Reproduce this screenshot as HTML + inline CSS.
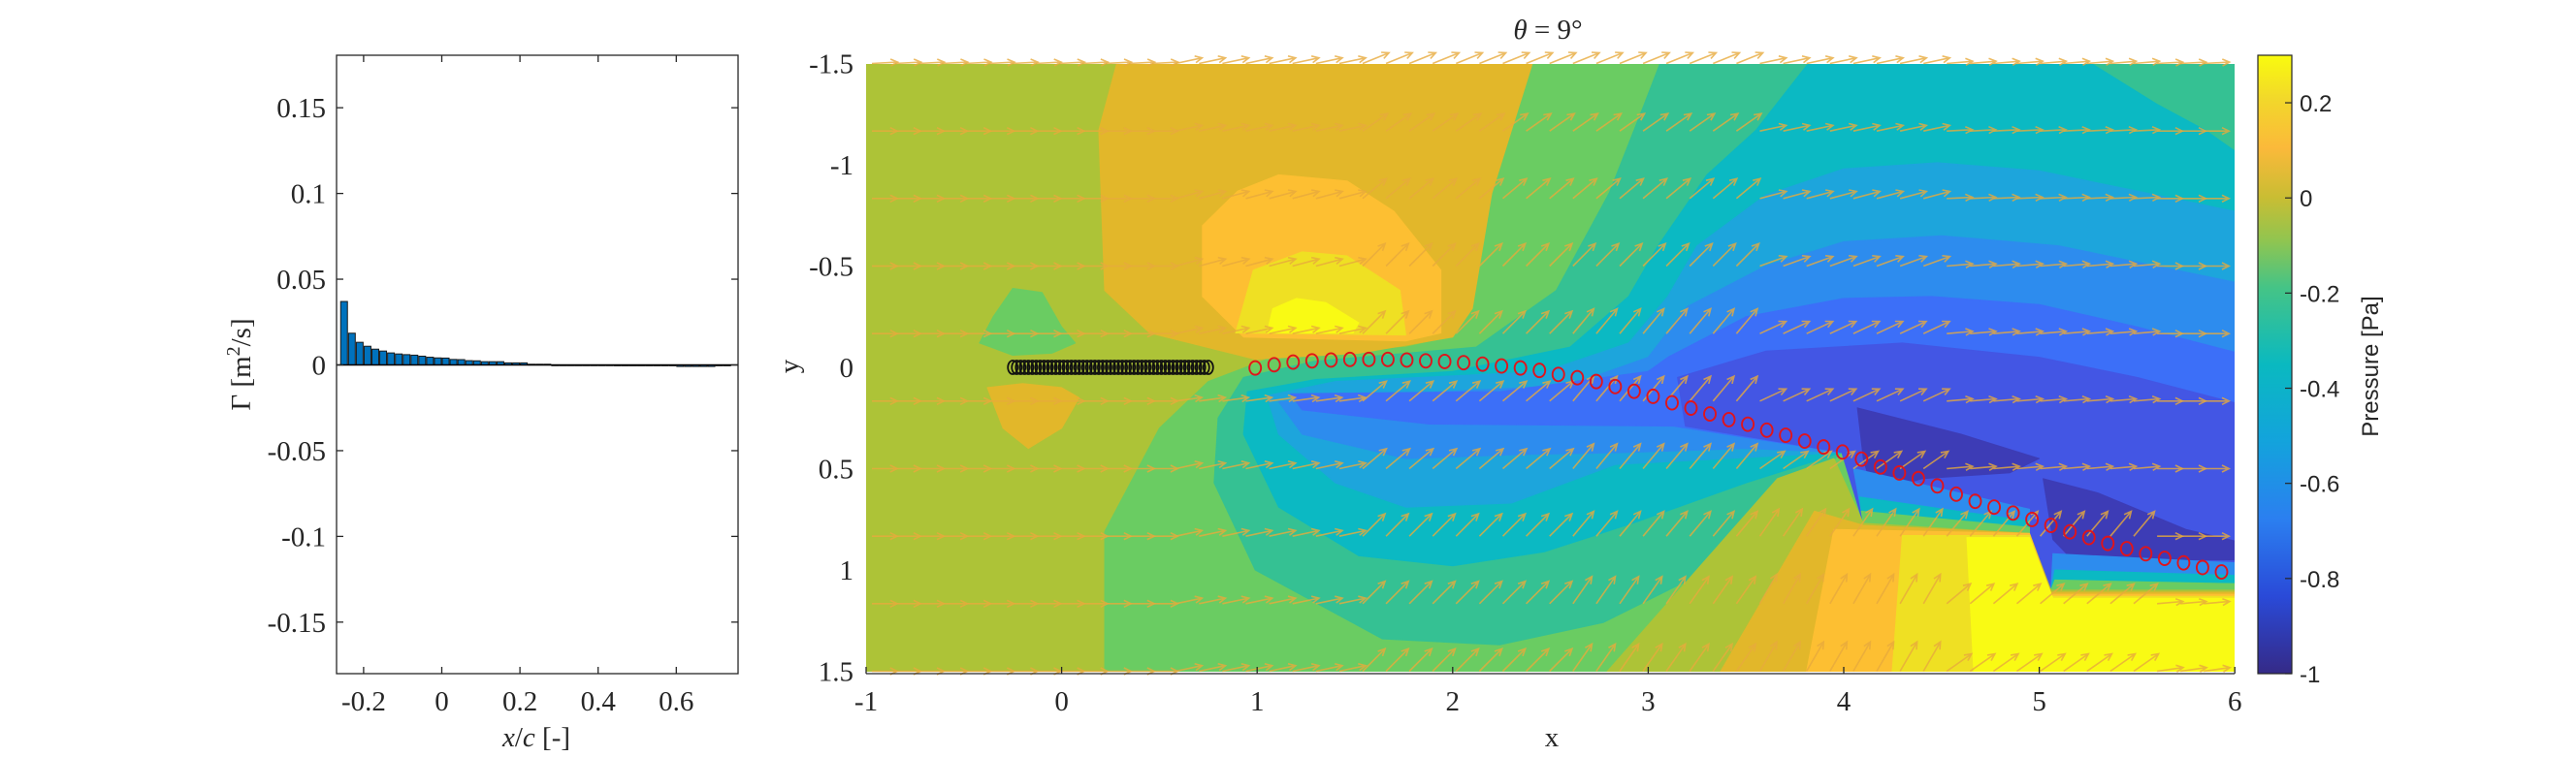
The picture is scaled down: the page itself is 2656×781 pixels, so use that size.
<!DOCTYPE html>
<html><head><meta charset="utf-8"><style>
html,body{margin:0;padding:0;background:#fff;}
svg{display:block;}
.tk{font-family:"Liberation Serif",serif;font-size:29px;fill:#262626;}
</style></head><body>
<svg id="fig" width="2656" height="781" viewBox="0 0 2656 781" xmlns="http://www.w3.org/2000/svg">
<defs>
<clipPath id="pc"><rect x="893" y="66" width="1411" height="627"/></clipPath>
<linearGradient id="parula" x1="0" y1="1" x2="0" y2="0">
<stop offset="0" stop-color="#352a87"/><stop offset="0.125" stop-color="#2a4ad8"/>
<stop offset="0.25" stop-color="#2b7ff0"/><stop offset="0.375" stop-color="#13a3dc"/>
<stop offset="0.5" stop-color="#0ab9c0"/><stop offset="0.625" stop-color="#45c486"/>
<stop offset="0.7" stop-color="#90c550"/><stop offset="0.77" stop-color="#c9bd33"/>
<stop offset="0.85" stop-color="#fbb93a"/><stop offset="0.93" stop-color="#f2d82a"/>
<stop offset="1" stop-color="#f9fb0e"/></linearGradient>
</defs>
<g id="left"></g>
<g id="right"></g>
</svg>
<script>
// ---- left bar chart data ----
const barX0 = -0.25, barStep = 0.02;
const gammaValues = [0.037,0.0185,0.0132,0.0109,0.0092,0.0081,0.0070,0.0064,0.0060,0.0057,0.0051,0.0045,0.0041,0.0040,0.0032,0.0031,0.0025,0.0024,0.0019,0.0019,0.0019,0.0012,0.0012,0.0012,0.0004,0.0004,0.0004,0,0,0,0,0,-0.0002,-0.0002,-0.0002,-0.0005,-0.0005,-0.0005,-0.0005,-0.0005,-0.0005,-0.0005,-0.0005,-0.0009,-0.0009,-0.0009,-0.0009,-0.0009,-0.0005,-0.0005];
const leftYTicks = [0.15,0.1,0.05,0,-0.05,-0.1,-0.15];
const leftYTickLabels = ["0.15","0.1","0.05","0","-0.05","-0.1","-0.15"];
const leftXTicks = [-0.2,0,0.2,0.4,0.6];
const leftXTickLabels = ["-0.2","0","0.2","0.4","0.6"];
// ---- right plot data ----
const rightXTicks = [-1,0,1,2,3,4,5,6];
const rightYTicks = [-1.5,-1,-0.5,0,0.5,1,1.5];
const rightYTickLabels = ["-1.5","-1","-0.5","0","0.5","1","1.5"];
const cbTicks = [0.2,0,-0.2,-0.4,-0.6,-0.8,-1];
const cbTickLabels = ["0.2","0","-0.2","-0.4","-0.6","-0.8","-1"];
const wakeX0 = 0.99, wakeStep = 0.0969;
const wakeY = [0.003,-0.013,-0.026,-0.032,-0.036,-0.039,-0.039,-0.039,-0.036,-0.032,-0.029,-0.023,-0.016,-0.007,0.003,0.015,0.035,0.051,0.070,0.095,0.118,0.143,0.175,0.201,0.230,0.258,0.281,0.310,0.335,0.364,0.393,0.418,0.453,0.492,0.521,0.549,0.585,0.626,0.661,0.690,0.719,0.751,0.780,0.812,0.840,0.869,0.895,0.920,0.943,0.965,0.988,1.010];
const plateX = [];
for (let i=0;i<=50;i++) plateX.push(-0.25+i*0.02);
const quiverRows = [-1.5,-1.1667,-0.8333,-0.5,-0.1667,0.1667,0.5,0.8333,1.1667,1.5];
const quiverCols = [-1,0,1,2,3,4,5,6];
const quiverAngles = [
 [3,3,12,22,22,12,5,3],
 [0,0,12,35,35,12,3,0],
 [0,0,15,40,40,15,3,0],
 [0,0,15,45,45,20,5,0],
 [0,0,12,45,50,25,5,0],
 [0,0,8,40,50,25,5,0],
 [0,0,12,40,50,35,5,0],
 [0,0,12,45,50,55,50,0],
 [0,0,12,45,55,60,40,5],
 [0,0,12,45,55,60,35,8]];

const NS='http://www.w3.org/2000/svg';
function mk(parent,tag,attrs){const e=document.createElementNS(NS,tag);for(const k in attrs)e.setAttribute(k,attrs[k]);parent.appendChild(e);return e;}
const lx=v=>455.5+v*403, ly=v=>376.5-v*1769;
const rx=v=>893+(v+1)*201.6, ry=v=>65.5+(v+1.5)*209;
const cy=v=>695-(v+1)*490.8;

// ---------- left ----------
const L=document.getElementById('left');
gammaValues.forEach((g,i)=>{
  const xc=lx(barX0+i*barStep);
  const y0=ly(0), y1=ly(g);
  const r=mk(L,'rect',{x:xc-3.5,y:Math.min(y0,y1),width:7,height:Math.max(0.8,Math.abs(y1-y0)),fill:'#0072bd',stroke:'#1a1a1a','stroke-width':1});
  
  
});
let zl=mk(L,'line',{x1:347,x2:761,y1:ly(0),y2:ly(0),stroke:'#000','stroke-width':1.5});

let lb=mk(L,'rect',{x:347,y:57,width:414,height:638,fill:'none',stroke:'#262626','stroke-width':1.3});

leftYTicks.forEach((t,i)=>{
  const y=ly(t);
  mk(L,'line',{x1:347,x2:354,y1:y,y2:y,stroke:'#262626','stroke-width':1.3});
  mk(L,'line',{x1:754,x2:761,y1:y,y2:y,stroke:'#262626','stroke-width':1.3});
  const tx=mk(L,'text',{x:336,y:y+10,'text-anchor':'end',class:'tk'});tx.textContent=leftYTickLabels[i];
  
});
leftXTicks.forEach((t,i)=>{
  const x=lx(t);
  mk(L,'line',{x1:x,x2:x,y1:695,y2:688,stroke:'#262626','stroke-width':1.3});
  mk(L,'line',{x1:x,x2:x,y1:57,y2:64,stroke:'#262626','stroke-width':1.3});
  const tx=mk(L,'text',{x:x,y:733,'text-anchor':'middle',class:'tk'});tx.textContent=leftXTickLabels[i];
  
});
let lyl=mk(L,'text',{x:0,y:0,transform:'translate(258,376) rotate(-90)','text-anchor':'middle',class:'tk'});
lyl.innerHTML='Γ [m<tspan dy="-11" font-size="20">2</tspan><tspan dy="11">/s]</tspan>';

let lxl=mk(L,'text',{x:553,y:770,'text-anchor':'middle',class:'tk'});
lxl.innerHTML='<tspan font-style="italic">x</tspan>/<tspan font-style="italic">c</tspan> [-]';


// ---------- right ----------
const R=document.getElementById('right');
const C=mk(R,'g',{'clip-path':'url(#pc)'});

const col={p3:'#f9fa14',p2:'#efe023',p1:'#fdbf32',p0:'#e2b72a',m1:'#adc337',m2:'#6acc62',m3:'#35c193',m4:'#0bb9c3',m5:'#1da5dc',m6:'#2d8cee',m7:'#3c6ff8',m8:'#4356e4',m9:'#3d3cb6'};
function poly(pts,c,name){
  const d=pts.map((p,i)=>(i?'L':'M')+rx(p[0]).toFixed(1)+' '+ry(p[1]).toFixed(1)).join(' ')+'Z';
  const e=mk(C,'path',{d:d,fill:col[c],stroke:col[c],'stroke-width':1,'stroke-linejoin':'round'});
  
  
}
mk(C,'rect',{x:880,y:50,width:1440,height:660,fill:col.m1});
poly([[2.44,-1.6],[6.1,-1.6],[6.1,1.1],[5.06,1.1],[4.95,0.82],[4.1,0.77],[3.95,0.5],[3.66,0.55],[2.7,1.6],[0.22,1.6],[0.22,0.81],[0.5,0.3],[0.75,0.07],[1.05,-0.04],[1.76,-0.1],[2.0,-0.15],[2.1,-0.29],[2.2,-0.86]],'m2','contour-level-m0.2');
poly([[3.1,-1.6],[6.1,-1.6],[6.1,0.42],[3.99,0.42],[3.66,0.71],[3.31,1.0],[2.77,1.26],[2.24,1.37],[1.64,1.34],[0.99,1.0],[0.78,0.57],[0.8,0.25],[0.93,0.05],[1.29,-0.03],[2.12,-0.1],[2.53,-0.38],[2.8,-0.86],[2.98,-1.3]],'m3','contour-level-m0.3');
poly([[3.9,-1.6],[5.1,-1.6],[5.6,-1.3],[5.85,-1.17],[6.1,-1.0],[6.1,0.42],[3.99,0.42],[3.5,0.57],[2.95,0.76],[2.47,0.91],[2.0,0.98],[1.52,0.93],[1.11,0.69],[0.93,0.33],[0.95,0.12],[1.3,0.06],[2.0,0.02],[2.6,-0.1],[2.9,-0.35],[3.05,-0.6],[3.3,-0.95],[3.55,-1.17]],'m4','contour-level-m0.4');
poly([[3.25,-0.6],[3.6,-0.85],[4.0,-0.98],[4.48,-1.01],[5.0,-0.97],[5.6,-0.85],[6.1,-0.75],[6.1,0.42],[3.99,0.42],[3.4,0.45],[2.83,0.48],[2.3,0.67],[1.76,0.69],[1.4,0.57],[1.11,0.33],[1.05,0.14],[1.4,0.07],[2.47,0.02],[2.9,-0.12],[3.1,-0.35]],'m5','contour-level-m0.5');
poly([[3.2,-0.3],[3.6,-0.5],[4.0,-0.62],[4.5,-0.65],[5.1,-0.6],[5.6,-0.5],[6.1,-0.4],[6.1,0.42],[3.99,0.42],[3.5,0.4],[2.9,0.42],[2.36,0.43],[1.76,0.45],[1.23,0.33],[1.11,0.17],[1.52,0.14],[2.59,0.09],[3.0,-0.05]],'m6','contour-level-m0.6');
poly([[3.1,-0.05],[3.5,-0.25],[4.0,-0.34],[4.45,-0.35],[5.0,-0.31],[5.5,-0.2],[6.1,-0.05],[6.1,0.6],[3.99,0.42],[3.13,0.29],[1.88,0.28],[1.23,0.21],[1.17,0.13],[2.24,0.12],[3.0,0.02]],'m7','contour-level-m0.7');
poly([[3.15,0.05],[3.6,-0.08],[4.3,-0.12],[5.0,-0.05],[5.5,0.05],[6.1,0.2],[6.1,1.1],[5.06,1.1],[4.95,0.82],[4.1,0.77],[3.99,0.42],[3.19,0.29]],'m8','contour-level-m0.8');
poly([[4.07,0.2],[4.6,0.33],[5.0,0.45],[4.85,0.52],[4.4,0.55],[4.15,0.62],[4.1,0.45]],'m9','contour-level-m0.9');
poly([[5.02,0.55],[5.3,0.62],[5.75,0.8],[6.1,0.88],[6.1,0.95],[5.5,0.95],[5.2,0.98],[5.07,0.85]],'m9','contour-level-m0.9');
poly([[4.05,0.5],[4.95,0.7],[4.95,0.82],[4.1,0.77]],'m6','wake-gradient-band');
poly([[4.08,0.64],[4.95,0.76],[4.95,0.82],[4.1,0.77]],'m4','wake-gradient-band');
poly([[4.09,0.71],[4.95,0.79],[4.95,0.82],[4.1,0.77]],'m2','wake-gradient-band');
poly([[5.07,0.92],[6.1,0.97],[6.1,1.1],[5.06,1.1]],'m6','wake-gradient-band');
poly([[5.08,1.0],[6.1,1.03],[6.1,1.1],[5.06,1.1]],'m4','wake-gradient-band');
poly([[5.08,1.05],[6.1,1.07],[6.1,1.1],[5.06,1.1]],'m2','wake-gradient-band');
poly([[2.7,1.6],[3.66,0.55],[3.95,0.45],[4.1,0.77],[4.95,0.82],[5.06,1.1],[6.1,1.1],[6.1,1.6]],'m1','contour-level-m0.1');
poly([[3.31,1.6],[3.85,0.71],[4.1,0.78],[4.95,0.82],[5.06,1.11],[6.1,1.11],[6.1,1.6]],'p0','contour-level-0');
poly([[3.79,1.6],[3.95,0.8],[4.95,0.82],[5.06,1.12],[6.1,1.12],[6.1,1.6]],'p1','contour-level-0.1');
poly([[4.24,1.6],[4.3,0.83],[4.95,0.83],[5.06,1.13],[6.1,1.13],[6.1,1.6]],'p2','contour-level-0.2');
poly([[4.67,1.6],[4.63,0.84],[4.95,0.84],[5.07,1.14],[6.1,1.14],[6.1,1.6]],'p3','contour-level-0.3');
poly([[0.31,-1.6],[2.44,-1.6],[2.2,-0.86],[2.1,-0.29],[2.0,-0.15],[1.52,-0.07],[0.99,-0.04],[0.45,-0.17],[0.22,-0.38],[0.19,-1.17]],'p0','contour-level-0');
poly([[0.9,-0.87],[0.72,-0.7],[0.72,-0.35],[0.93,-0.15],[1.76,-0.13],[1.94,-0.17],[1.94,-0.48],[1.7,-0.77],[1.46,-0.92],[1.11,-0.95]],'p1','contour-level-0.1');
poly([[0.98,-0.48],[0.89,-0.17],[1.76,-0.16],[1.73,-0.38],[1.46,-0.55],[1.23,-0.57]],'p2','contour-level-0.2');
poly([[1.08,-0.29],[1.05,-0.17],[1.49,-0.17],[1.52,-0.22],[1.35,-0.32],[1.2,-0.34]],'p3','contour-level-0.3');
poly([[-0.25,-0.39],[-0.1,-0.37],[0.0,-0.2],[0.07,-0.12],[-0.05,-0.07],[-0.25,-0.06],[-0.42,-0.12],[-0.35,-0.25]],'m2','leading-edge-suction-blob');
poly([[-0.38,0.1],[-0.2,0.08],[0.0,0.1],[0.09,0.15],[0.0,0.3],[-0.17,0.4],[-0.3,0.3]],'p0','leading-edge-pressure-blob');

// quiver
const Q=mk(R,'g',{stroke:'#e7aa3c','stroke-width':1.6,fill:'none','stroke-opacity':0.8});

quiverRows.forEach((yr,ri)=>{
  for(let x=-0.97;x<=5.95;x+=0.1195){
    let ci=Math.round(x+1); if(ci>7)ci=7; if(ci<0)ci=0;
    const a=quiverAngles[ri][ci]*Math.PI/180;
    const len=26+quiverAngles[ri][ci]*0.15;
    const x0=rx(x), y0=ry(yr), x1=x0+len*Math.cos(a), y1=y0-len*Math.sin(a);
    const ha=0.45, hl=8;
    const b1x=x1-hl*Math.cos(a-ha), b1y=y1+hl*Math.sin(a-ha);
    const b2x=x1-hl*Math.cos(a+ha), b2y=y1+hl*Math.sin(a+ha);
    const p=mk(Q,'path',{d:`M${x0.toFixed(1)} ${y0.toFixed(1)}L${x1.toFixed(1)} ${y1.toFixed(1)}M${b1x.toFixed(1)} ${b1y.toFixed(1)}L${x1.toFixed(1)} ${y1.toFixed(1)}L${b2x.toFixed(1)} ${b2y.toFixed(1)}`});
    
    
  }
});
plateX.forEach(x=>{
  const c=mk(R,'ellipse',{cx:rx(x),cy:ry(0),rx:5,ry:7,fill:'none',stroke:'#111','stroke-width':1.8});
  
  
});
wakeY.forEach((y,i)=>{
  const c=mk(R,'ellipse',{cx:rx(wakeX0+i*wakeStep),cy:ry(y),rx:6,ry:7,fill:'none',stroke:'#e0141b','stroke-width':1.9});
  
  
});
let xa=mk(R,'line',{x1:893,x2:2304,y1:695,y2:695,stroke:'#262626','stroke-width':1.3});

rightXTicks.forEach(t=>{
  const x=rx(t);
  mk(R,'line',{x1:x,x2:x,y1:695,y2:688,stroke:'#262626','stroke-width':1.3});
  const tx=mk(R,'text',{x:x,y:733,'text-anchor':'middle',class:'tk'});tx.textContent=String(t);
  
});
rightYTicks.forEach((t,i)=>{
  const y=ry(t);
  const tx=mk(R,'text',{x:880,y:y+10,'text-anchor':'end',class:'tk'});tx.textContent=rightYTickLabels[i];
  
});
let yt=mk(R,'text',{x:0,y:0,transform:'translate(823,378) rotate(-90)','text-anchor':'middle',class:'tk'});yt.textContent='y';

let xt=mk(R,'text',{x:1600,y:770,'text-anchor':'middle',class:'tk'});xt.textContent='x';

let tt=mk(R,'text',{x:1596,y:40,'text-anchor':'middle',class:'tk'});
tt.innerHTML='<tspan font-style="italic">θ</tspan> = 9°';

let cb=mk(R,'rect',{x:2328,y:57,width:35,height:638,fill:'url(#parula)',stroke:'#262626','stroke-width':1.2});

cbTicks.forEach((t,i)=>{
  const y=cy(t);
  mk(R,'line',{x1:2356,x2:2363,y1:y,y2:y,stroke:'#262626','stroke-width':1.2});
  const tx=mk(R,'text',{x:2371,y:y+9,'font-family':'Liberation Sans, sans-serif','font-size':24,fill:'#262626'});tx.textContent=cbTickLabels[i];
  
});
let cl=mk(R,'text',{x:0,y:0,transform:'translate(2452,378) rotate(-90)','text-anchor':'middle','font-family':'Liberation Sans, sans-serif','font-size':24,fill:'#262626'});
cl.textContent='Pressure [Pa]';

</script>
</body></html>
